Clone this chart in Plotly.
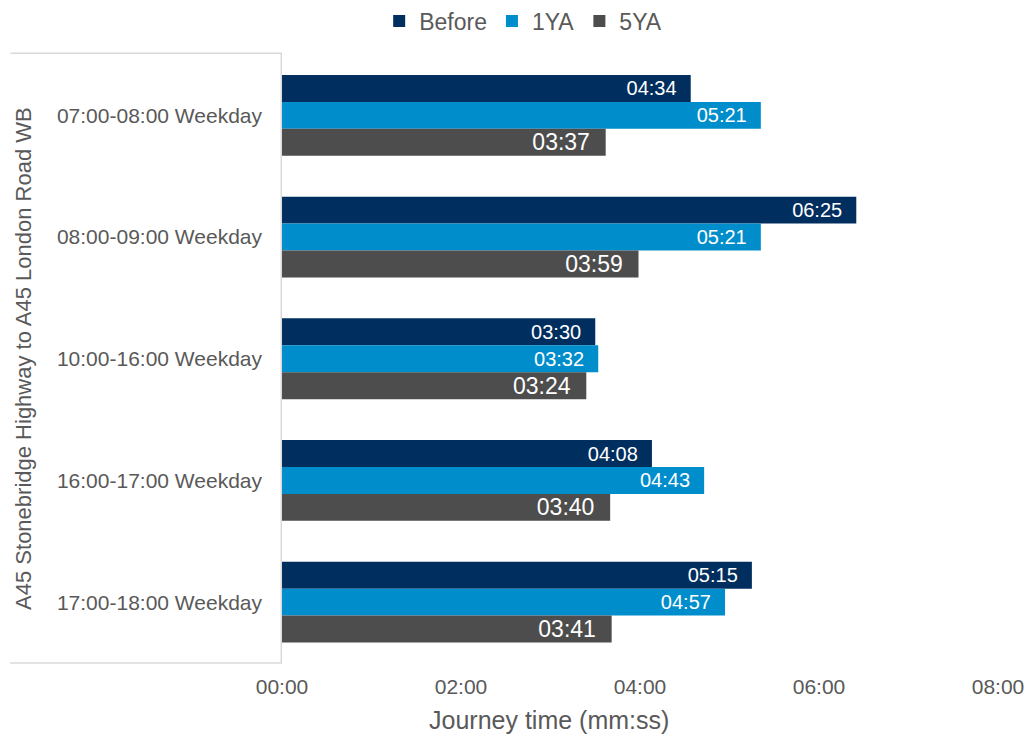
import plotly.graph_objects as go

# Journey time survey: A45 Stonebridge Highway to A45 London Road WB
route = "A45 Stonebridge Highway to A45 London Road WB"
periods = [
    "07:00-08:00 Weekday",
    "08:00-09:00 Weekday",
    "10:00-16:00 Weekday",
    "16:00-17:00 Weekday",
    "17:00-18:00 Weekday",
]
series_names = ["Before", "1YA", "5YA"]
before = ["04:34", "06:25", "03:30", "04:08", "05:15"]
one_year_after = ["05:21", "05:21", "03:32", "04:43", "04:57"]
five_year_after = ["03:37", "03:59", "03:24", "03:40", "03:41"]

x_tickvals = [0, 120, 240, 360, 480]
x_ticktext = ["00:00", "02:00", "04:00", "06:00", "08:00"]

colors = ["#002E5E", "#008DCB", "#4D4D4D"]
label_sizes = [20, 20, 23]
FONT = "Arial, Liberation Sans, sans-serif"
GREY = "#595959"
LINE = "#D9D9D9"


def to_seconds(t):
    m, s = t.split(":")
    return int(m) * 60 + int(s)


fig = go.Figure()
for name, vals, col, fs in zip(series_names, [before, one_year_after, five_year_after], colors, label_sizes):
    fig.add_trace(go.Bar(
        name=name,
        orientation="h",
        y=periods,
        x=[to_seconds(v) for v in vals],
        text=[v + "\u00a0\u00a0" for v in vals],
        textposition="inside",
        insidetextanchor="end",
        constraintext="none",
        textangle=0,
        textfont=dict(family=FONT, size=fs, color="white"),
        marker=dict(color=col, line=dict(width=0)),
        hoverinfo="skip",
    ))

# plot area: 282..1004 px horizontally, 53..663 px vertically
L, R, T, B = 282, 32, 53, 73
W, H = 1036, 736
pw, ph = W - L - R, H - T - B


def px_x(p):
    return (p - L) / pw


def px_y(p):
    return (H - B - p) / ph


shapes = [
    dict(type="line", xref="paper", yref="paper", x0=px_x(8), x1=0, y0=1.002, y1=1.002,
         line=dict(color=LINE, width=1.5)),
    dict(type="line", xref="paper", yref="paper", x0=-0.001, x1=-0.001, y0=0, y1=1.002,
         line=dict(color=LINE, width=1.5)),
    dict(type="line", xref="paper", yref="paper", x0=px_x(8), x1=0, y0=0, y1=0,
         line=dict(color=LINE, width=1.5)),
]

annotations = [
    dict(text=route, xref="paper", yref="paper", x=px_x(22), y=0.5, textangle=-90,
         showarrow=False, xanchor="center", yanchor="middle",
         font=dict(family=FONT, size=22, color=GREY)),
    dict(text="Journey time (mm:ss)", xref="paper", yref="paper", x=px_x(551), y=px_y(720),
         showarrow=False, xanchor="center", yanchor="middle",
         font=dict(family=FONT, size=25, color=GREY)),
]

fig.update_layout(
    width=W, height=H,
    margin=dict(l=L, r=R, t=T, b=B),
    paper_bgcolor="white", plot_bgcolor="white",
    barmode="group", bargap=0.336, bargroupgap=0,
    font=dict(family=FONT, color=GREY),
    showlegend=True,
    legend=dict(orientation="h", xref="container", yref="container",
                x=0.505, xanchor="center", y=1 - 21 / H, yanchor="middle",
                font=dict(family=FONT, size=23, color=GREY),
                traceorder="normal", itemclick=False),
    shapes=shapes,
    annotations=annotations,
    xaxis=dict(range=[0, 480], tickvals=x_tickvals, ticktext=x_ticktext,
               showgrid=False, zeroline=False, showline=False, ticks="",
               ticklabelstandoff=9,
               tickfont=dict(family=FONT, size=21, color=GREY)),
    yaxis=dict(type="category", autorange="reversed", showgrid=False, zeroline=False,
               showline=False, ticks="", ticklabelstandoff=19,
               tickfont=dict(family=FONT, size=21, color=GREY)),
)

fig.write_html("out.html")
